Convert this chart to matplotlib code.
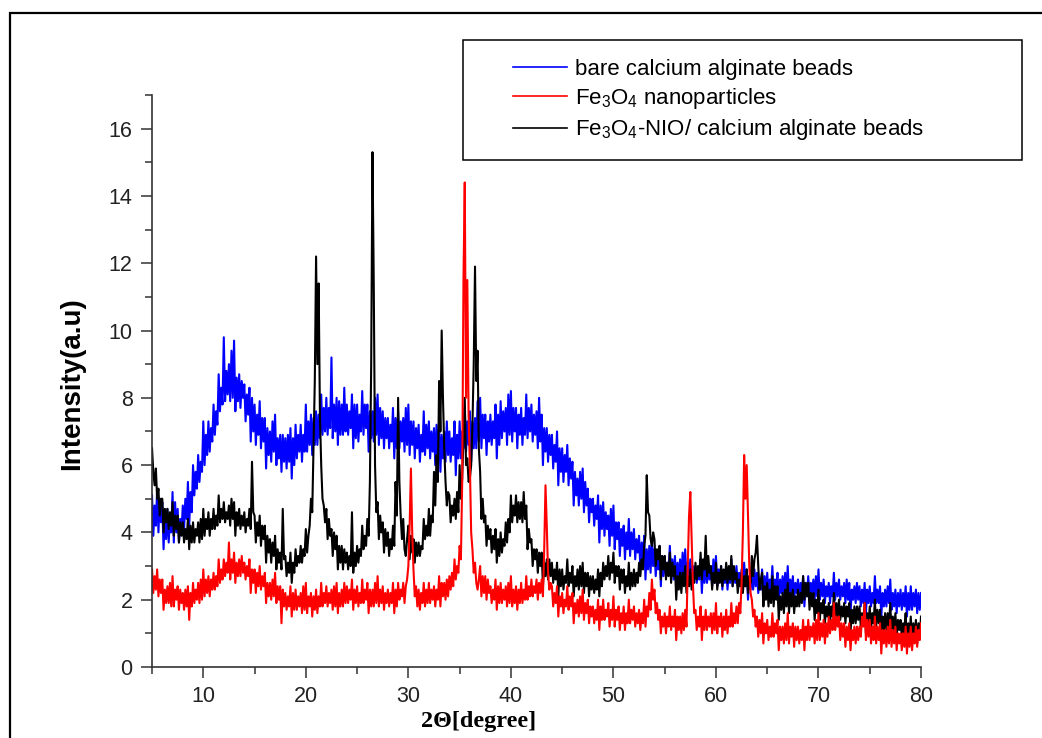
import numpy as np
import matplotlib
matplotlib.use("Agg")
import matplotlib.pyplot as plt
from matplotlib.patches import Rectangle
from matplotlib.ticker import MultipleLocator

# XRD scan 5 - 80 degrees, values read every 0.125 degree off the picture
two_theta = np.arange(601) * 0.125 + 5

bare_beads = [
    5.1, 3.9, 4.8, 4.2, 5.3, 4.0, 5.0, 4.3,  # 5
    4.9, 3.5, 4.6, 3.8, 4.7, 3.7, 4.4, 4.0,  # 6
    5.2, 3.7, 4.9, 4.0, 4.7, 3.7, 4.4, 4.0,  # 7
    4.8, 4.1, 5.0, 4.4, 5.5, 4.2, 5.2, 4.6,  # 8
    6.0, 5.1, 5.8, 5.3, 6.3, 5.5, 6.1, 5.8,  # 9
    7.3, 6.0, 6.9, 6.3, 7.3, 6.4, 7.1, 6.7,  # 10
    7.8, 6.9, 7.6, 7.2, 8.7, 7.6, 8.3, 7.8,  # 11
    9.8, 7.9, 8.8, 8.1, 9.0, 7.9, 9.4, 8.0,  # 12
    9.7, 7.6, 8.6, 7.9, 8.7, 7.7, 8.5, 8.0,  # 13
    8.4, 7.3, 8.1, 7.5, 8.3, 6.7, 8.0, 7.0,  # 14
    7.8, 6.6, 7.5, 6.9, 7.9, 6.5, 7.4, 6.7,  # 15
    7.4, 5.9, 7.1, 6.3, 7.0, 6.1, 7.3, 6.4,  # 16
    7.5, 6.0, 6.8, 6.2, 6.9, 5.8, 6.9, 6.1,  # 17
    6.8, 5.9, 6.9, 6.1, 7.1, 5.6, 6.8, 6.0,  # 18
    7.2, 6.2, 6.9, 6.4, 7.2, 6.1, 6.9, 6.4,  # 19
    7.8, 6.4, 7.3, 6.6, 7.5, 6.3, 7.4, 6.6,  # 20
    7.6, 6.6, 7.5, 6.8, 8.1, 6.9, 7.7, 7.0,  # 21
    8.0, 6.9, 7.7, 7.1, 9.2, 6.8, 7.8, 7.0,  # 22
    8.0, 6.6, 7.9, 6.9, 7.8, 6.9, 8.3, 7.0,  # 23
    7.8, 6.9, 7.6, 7.1, 8.1, 6.5, 7.8, 6.8,  # 24
    7.8, 6.7, 7.5, 7.0, 8.2, 6.9, 7.8, 7.1,  # 25
    7.8, 6.4, 7.6, 6.8, 7.6, 6.7, 8.0, 6.9,  # 26
    8.1, 6.6, 7.7, 6.8, 7.6, 6.5, 7.4, 6.8,  # 27
    7.4, 6.5, 7.2, 6.7, 7.7, 6.2, 7.4, 6.5,  # 28
    7.6, 6.5, 7.3, 6.7, 7.4, 6.4, 7.7, 6.6,  # 29
    7.8, 6.3, 7.3, 6.6, 7.3, 6.2, 7.1, 6.5,  # 30
    7.2, 6.1, 6.9, 6.4, 7.6, 6.3, 7.2, 6.5,  # 31
    7.3, 6.2, 7.0, 6.4, 7.1, 6.0, 7.2, 6.3,  # 32
    7.2, 5.8, 6.9, 6.2, 7.0, 6.1, 7.3, 6.3,  # 33
    7.0, 6.1, 6.8, 6.3, 7.3, 5.7, 6.9, 6.2,  # 34
    7.3, 6.2, 7.0, 6.5, 7.7, 6.4, 7.3, 6.6,  # 35
    7.6, 6.1, 7.3, 6.5, 7.4, 6.5, 7.9, 6.7,  # 36
    8.0, 6.5, 7.5, 6.8, 7.5, 6.3, 7.3, 6.7,  # 37
    7.5, 6.6, 7.3, 6.8, 7.8, 6.2, 7.5, 6.6,  # 38
    7.9, 6.8, 7.6, 7.0, 7.7, 6.6, 8.1, 6.9,  # 39
    8.2, 6.7, 7.7, 7.0, 7.7, 6.5, 7.5, 6.9,  # 40
    7.7, 6.6, 7.4, 6.9, 8.1, 6.8, 7.7, 7.0,  # 41
    7.8, 6.7, 7.5, 6.9, 7.6, 6.5, 8.0, 6.7,  # 42
    7.5, 6.0, 7.1, 6.4, 7.1, 6.1, 6.9, 6.3,  # 43
    6.9, 5.9, 6.6, 6.1, 7.0, 5.4, 6.5, 5.8,  # 44
    6.5, 5.5, 6.3, 5.8, 6.6, 5.4, 6.2, 5.6,  # 45
    6.1, 4.8, 5.8, 5.1, 5.6, 4.8, 5.8, 5.0,  # 46
    5.9, 4.6, 5.5, 4.8, 5.3, 4.3, 5.0, 4.6,  # 47
    5.0, 4.2, 4.8, 4.4, 5.1, 3.7, 4.8, 4.1,  # 48
    4.9, 3.9, 4.6, 4.1, 4.5, 3.6, 4.7, 3.9,  # 49
    4.8, 3.5, 4.3, 3.8, 4.3, 3.3, 4.1, 3.6,  # 50
    4.2, 3.2, 4.0, 3.5, 4.4, 3.3, 4.0, 3.5,  # 51
    4.1, 3.2, 3.8, 3.4, 3.9, 2.9, 3.7, 3.2,  # 52
    3.9, 2.6, 3.5, 2.9, 3.6, 2.8, 3.8, 3.0,  # 53
    3.5, 2.7, 3.3, 2.9, 3.6, 2.4, 3.3, 2.7,  # 54
    3.3, 2.7, 3.1, 2.8, 3.6, 2.8, 3.2, 2.6,  # 55
    3.3, 2.4, 3.1, 2.6, 3.2, 2.6, 3.4, 2.7,  # 56
    3.5, 2.6, 3.1, 2.7, 3.2, 2.5, 3.0, 2.6,  # 57
    3.0, 2.5, 2.9, 2.6, 3.2, 2.2, 3.0, 2.5,  # 58
    3.1, 2.5, 2.9, 2.6, 3.0, 2.4, 3.2, 2.5,  # 59
    3.3, 2.4, 2.9, 2.6, 3.0, 2.3, 2.8, 2.5,  # 60
    2.9, 2.3, 2.8, 2.5, 3.2, 2.4, 2.9, 2.5,  # 61
    3.0, 2.4, 2.8, 2.5, 2.9, 2.3, 3.1, 2.4,  # 62
    2.9, 2.0, 2.7, 2.3, 2.8, 2.3, 2.9, 2.4,  # 63
    2.8, 2.2, 2.6, 2.3, 2.9, 2.0, 2.7, 2.2,  # 64
    2.8, 2.1, 2.6, 2.3, 3.0, 2.2, 2.6, 2.3,  # 65
    2.8, 1.9, 2.6, 2.2, 2.7, 2.1, 2.8, 2.2,  # 66
    3.0, 2.1, 2.6, 2.2, 2.7, 2.0, 2.5, 2.2,  # 67
    2.6, 2.0, 2.5, 2.1, 2.7, 1.8, 2.5, 2.1,  # 68
    2.7, 2.1, 2.5, 2.2, 2.6, 2.0, 2.7, 2.1,  # 69
    2.9, 2.0, 2.5, 2.1, 2.6, 1.9, 2.4, 2.1,  # 70
    2.5, 1.9, 2.4, 2.1, 2.8, 2.0, 2.5, 2.1,  # 71
    2.6, 2.0, 2.4, 2.1, 2.5, 1.9, 2.6, 2.0,  # 72
    2.5, 1.6, 2.3, 2.0, 2.4, 1.9, 2.5, 2.0,  # 73
    2.4, 1.8, 2.3, 1.9, 2.5, 1.6, 2.3, 1.9,  # 74
    2.4, 1.8, 2.2, 1.9, 2.7, 1.9, 2.3, 1.9,  # 75
    2.4, 1.5, 2.2, 1.8, 2.3, 1.8, 2.4, 1.9,  # 76
    2.6, 1.7, 2.2, 1.8, 2.3, 1.6, 2.2, 1.8,  # 77
    2.3, 1.7, 2.2, 1.8, 2.4, 1.5, 2.2, 1.7,  # 78
    2.4, 1.7, 2.2, 1.8, 2.3, 1.6, 2.2, 1.7,  # 79
    2.2,                                      # 80
]

fe3o4 = [
    2.9, 2.2, 2.7, 2.3, 2.9, 2.1, 2.6, 2.2,  # 5
    2.6, 1.7, 2.3, 1.9, 2.4, 1.9, 2.5, 1.8,  # 6
    2.7, 1.8, 2.3, 2.0, 2.4, 1.7, 2.3, 1.9,  # 7
    2.2, 1.7, 2.3, 1.8, 2.4, 1.4, 2.2, 1.8,  # 8
    2.5, 1.9, 2.3, 2.0, 2.5, 1.9, 2.6, 2.0,  # 9
    2.9, 2.1, 2.6, 2.2, 2.7, 2.1, 2.6, 2.3,  # 10
    2.8, 2.3, 2.7, 2.4, 3.2, 2.5, 2.9, 2.6,  # 11
    3.2, 2.7, 3.1, 2.8, 3.7, 2.6, 3.2, 2.8,  # 12
    3.4, 2.5, 3.1, 2.7, 3.2, 2.7, 3.3, 2.8,  # 13
    3.1, 2.6, 3.0, 2.7, 3.2, 2.2, 2.9, 2.5,  # 14
    2.9, 2.2, 2.8, 2.4, 3.0, 2.3, 2.7, 2.4,  # 15
    2.8, 1.9, 2.5, 2.1, 2.5, 2.0, 2.6, 2.1,  # 16
    2.8, 1.9, 2.4, 2.0, 2.4, 1.3, 2.3, 1.8,  # 17
    2.2, 1.7, 2.1, 1.8, 2.4, 1.5, 2.2, 1.7,  # 18
    2.3, 1.7, 2.1, 1.8, 2.2, 1.6, 2.4, 1.7,  # 19
    2.5, 1.6, 2.1, 1.8, 2.2, 1.5, 2.1, 1.7,  # 20
    2.3, 1.6, 2.1, 1.8, 2.5, 1.8, 2.2, 1.9,  # 21
    2.4, 1.8, 2.2, 1.9, 2.3, 1.7, 2.4, 1.8,  # 22
    2.5, 1.6, 2.2, 1.8, 2.3, 1.8, 2.5, 1.9,  # 23
    2.4, 1.9, 2.3, 2.0, 2.6, 1.7, 2.3, 1.9,  # 24
    2.4, 1.8, 2.2, 1.9, 2.6, 1.9, 2.3, 2.0,  # 25
    2.5, 1.6, 2.3, 1.8, 2.3, 1.8, 2.5, 1.9,  # 26
    2.7, 1.8, 2.3, 1.9, 2.4, 1.7, 2.2, 1.9,  # 27
    2.3, 1.8, 2.2, 1.9, 2.5, 1.6, 2.3, 1.8,  # 28
    2.5, 2.0, 2.3, 2.1, 2.5, 1.9, 2.4, 2.6,  # 29
    3.0, 4.2, 5.9, 4.0, 2.9, 2.1, 2.4, 1.8,  # 30
    2.3, 1.7, 2.2, 1.9, 2.5, 1.8, 2.3, 1.9,  # 31
    2.5, 1.9, 2.3, 2.0, 2.4, 1.8, 2.3, 2.0,  # 32
    2.7, 1.8, 2.5, 2.1, 2.5, 2.0, 2.6, 2.1,  # 33
    2.7, 2.3, 2.8, 2.4, 3.2, 2.6, 3.0, 2.8,  # 34
    3.6, 3.2, 5.5, 11.5, 14.4, 8.0, 11.5, 7.5,  # 35
    6.0, 4.0, 3.5, 2.8, 3.1, 2.5, 2.3, 2.6,  # 36
    3.0, 2.1, 2.7, 2.2, 2.7, 2.0, 2.6, 2.2,  # 37
    2.4, 1.9, 2.3, 2.0, 2.6, 1.7, 2.4, 1.9,  # 38
    2.5, 1.9, 2.3, 2.0, 2.4, 1.8, 2.5, 1.9,  # 39
    2.7, 1.8, 2.3, 1.9, 2.4, 1.7, 2.3, 1.9,  # 40
    2.5, 1.9, 2.3, 2.0, 2.7, 2.0, 2.4, 2.1,  # 41
    2.6, 2.1, 2.4, 2.2, 2.6, 2.0, 2.5, 2.2,  # 42
    2.6, 2.1, 3.5, 5.4, 4.2, 2.8, 2.3, 2.5,  # 43
    2.4, 1.8, 2.2, 1.9, 2.4, 1.5, 2.1, 1.8,  # 44
    2.2, 1.6, 2.0, 1.8, 2.4, 1.7, 2.1, 1.8,  # 45
    2.2, 1.3, 1.9, 1.6, 2.0, 1.5, 2.1, 1.6,  # 46
    2.3, 1.4, 1.9, 1.6, 2.0, 1.3, 1.8, 1.5,  # 47
    1.8, 1.3, 1.7, 1.4, 2.0, 1.1, 1.8, 1.4,  # 48
    2.0, 1.4, 1.7, 1.5, 1.9, 1.2, 1.7, 1.4,  # 49
    2.1, 1.2, 1.7, 1.4, 1.8, 1.1, 1.6, 1.3,  # 50
    1.8, 1.1, 1.6, 1.3, 2.0, 1.3, 1.7, 1.4,  # 51
    1.8, 1.2, 1.6, 1.3, 1.7, 1.1, 1.6, 1.3,  # 52
    2.0, 1.2, 1.8, 1.5, 2.2, 1.7, 2.6, 2.0,  # 53
    2.3, 1.6, 1.9, 1.4, 1.7, 1.0, 1.5, 1.2,  # 54
    1.6, 1.0, 1.5, 1.2, 1.8, 1.1, 1.5, 1.2,  # 55
    1.7, 0.8, 1.5, 1.1, 1.5, 1.0, 1.6, 1.1,  # 56
    1.7, 1.2, 3.0, 4.5, 5.2, 3.8, 2.5, 1.6,  # 57
    1.7, 1.1, 1.5, 1.2, 1.8, 0.8, 1.5, 1.1,  # 58
    1.7, 1.1, 1.5, 1.2, 1.6, 1.0, 1.6, 1.1,  # 59
    1.9, 1.0, 1.5, 1.2, 1.6, 0.9, 1.5, 1.1,  # 60
    1.7, 1.0, 1.5, 1.2, 1.9, 1.2, 1.6, 1.3,  # 61
    1.8, 1.3, 1.9, 1.6, 2.5, 4.0, 6.3, 5.0,  # 62
    6.0, 4.5, 3.0, 2.2, 2.0, 1.5, 1.7, 1.2,  # 63
    1.5, 0.9, 1.4, 1.0, 1.6, 0.7, 1.3, 1.0,  # 64
    1.4, 0.8, 1.2, 0.9, 1.6, 0.9, 1.3, 1.0,  # 65
    1.4, 0.5, 1.2, 0.8, 1.2, 0.7, 1.3, 0.8,  # 66
    1.6, 0.7, 1.2, 0.9, 1.3, 0.6, 1.2, 0.8,  # 67
    1.2, 0.7, 1.1, 0.8, 1.4, 0.5, 1.2, 0.8,  # 68
    1.4, 0.8, 1.2, 0.9, 1.3, 0.7, 1.4, 0.8,  # 69
    1.6, 0.8, 1.3, 0.9, 1.4, 0.7, 1.3, 0.9,  # 70
    1.5, 1.0, 1.4, 1.1, 1.9, 1.1, 1.5, 1.2,  # 71
    1.5, 0.8, 1.3, 0.9, 1.3, 0.6, 1.2, 0.8,  # 72
    1.3, 0.5, 1.1, 0.8, 1.2, 0.7, 1.2, 0.8,  # 73
    1.2, 0.9, 1.5, 1.2, 1.9, 0.8, 1.4, 0.9,  # 74
    1.4, 0.7, 1.2, 0.8, 1.5, 0.7, 1.2, 0.8,  # 75
    1.3, 0.4, 1.1, 0.7, 1.1, 0.6, 1.2, 0.7,  # 76
    1.4, 0.6, 1.1, 0.7, 1.2, 0.5, 1.0, 0.7,  # 77
    1.0, 0.5, 1.0, 0.6, 1.2, 0.4, 1.0, 0.6,  # 78
    1.2, 0.5, 1.0, 0.7, 1.2, 0.6, 1.1, 0.8,  # 79
    1.3,                                      # 80
]

fe3o4_nio_beads = [
    6.5, 5.8, 5.4, 5.9, 5.0, 5.3, 4.5, 5.0,  # 5
    5.0, 4.0, 4.7, 4.3, 4.7, 4.1, 4.6, 4.2,  # 6
    4.9, 3.9, 4.5, 4.1, 4.5, 3.7, 4.3, 3.9,  # 7
    4.3, 3.7, 4.1, 3.8, 4.4, 3.5, 4.2, 3.7,  # 8
    4.3, 3.7, 4.1, 3.9, 4.3, 3.7, 4.4, 3.8,  # 9
    4.7, 3.9, 4.4, 4.1, 4.6, 3.9, 4.4, 4.1,  # 10
    4.7, 4.1, 4.5, 4.2, 5.1, 4.3, 4.7, 4.4,  # 11
    4.9, 4.3, 4.6, 4.4, 4.8, 4.2, 5.0, 4.4,  # 12
    4.9, 3.9, 4.6, 4.2, 4.7, 4.1, 4.5, 4.2,  # 13
    4.6, 4.0, 4.4, 4.2, 4.7, 4.1, 6.1, 4.6,  # 14
    4.5, 3.7, 4.3, 3.9, 4.5, 3.6, 4.2, 3.8,  # 15
    4.2, 3.1, 3.9, 3.4, 3.8, 3.1, 3.7, 3.3,  # 16
    3.9, 2.9, 3.5, 3.1, 3.4, 2.9, 4.7, 3.2,  # 17
    3.3, 2.7, 3.1, 2.8, 3.4, 2.5, 3.1, 2.8,  # 18
    3.5, 3.0, 3.3, 3.1, 3.6, 3.1, 3.5, 3.3,  # 19
    4.1, 3.4, 3.9, 4.2, 5.0, 4.6, 6.5, 8.5,  # 20
    12.2, 9.0, 11.4, 7.5, 6.0, 5.0, 4.8, 4.3,  # 21
    4.7, 3.8, 4.4, 3.9, 4.1, 3.3, 4.0, 3.5,  # 22
    3.9, 2.9, 3.6, 3.1, 3.6, 2.9, 3.5, 3.1,  # 23
    3.4, 2.9, 3.3, 3.0, 4.6, 2.8, 3.4, 3.0,  # 24
    3.6, 3.1, 3.5, 3.3, 4.2, 3.5, 3.9, 3.6,  # 25
    4.4, 3.9, 5.5, 9.0, 15.3, 11.4, 6.0, 4.6,  # 26
    4.9, 3.8, 4.5, 4.0, 4.3, 3.4, 4.1, 3.6,  # 27
    4.0, 3.3, 3.8, 3.5, 4.2, 3.6, 5.5, 4.5,  # 28
    8.0, 5.5, 4.5, 3.8, 4.4, 3.5, 3.3, 3.8,  # 29
    4.2, 3.2, 3.9, 3.4, 3.8, 3.1, 3.7, 3.3,  # 30
    3.7, 3.3, 3.6, 3.5, 4.4, 3.8, 4.2, 3.9,  # 31
    4.7, 3.9, 4.5, 4.3, 5.8, 4.8, 6.3, 5.5,  # 32
    8.5, 7.0, 10.0, 8.0, 6.5, 5.5, 4.8, 5.2,  # 33
    5.1, 4.3, 4.8, 4.5, 5.0, 4.4, 5.2, 4.6,  # 34
    6.0, 5.0, 5.6, 6.8, 8.0, 6.0, 6.2, 5.5,  # 35
    5.6, 6.0, 7.2, 9.0, 11.9, 8.5, 9.4, 6.5,  # 36
    5.8, 4.4, 5.0, 4.3, 4.5, 3.6, 4.2, 3.8,  # 37
    4.1, 3.4, 3.9, 3.5, 4.1, 3.1, 3.8, 3.3,  # 38
    4.0, 3.4, 3.8, 3.6, 4.3, 3.7, 4.4, 4.0,  # 39
    5.1, 4.3, 4.8, 4.5, 5.1, 4.3, 4.9, 4.4,  # 40
    4.9, 4.3, 5.2, 4.4, 4.8, 3.5, 4.1, 3.7,  # 41
    3.8, 3.0, 3.5, 3.2, 3.5, 2.8, 3.4, 3.0,  # 42
    3.4, 2.4, 3.1, 2.7, 3.2, 2.6, 3.2, 2.7,  # 43
    3.1, 2.5, 2.9, 2.6, 3.1, 2.1, 2.9, 2.4,  # 44
    2.9, 2.3, 2.7, 2.5, 3.2, 2.4, 2.8, 2.5,  # 45
    3.0, 2.1, 2.7, 2.4, 2.9, 2.3, 3.0, 2.4,  # 46
    3.1, 2.2, 2.8, 2.4, 2.8, 2.1, 2.7, 2.3,  # 47
    2.7, 2.2, 2.6, 2.3, 2.9, 2.1, 2.8, 2.4,  # 48
    3.1, 2.6, 3.0, 2.7, 3.3, 2.6, 3.1, 2.8,  # 49
    3.4, 2.5, 3.0, 2.7, 3.0, 2.3, 2.9, 2.5,  # 50
    2.9, 2.2, 2.7, 2.4, 3.1, 2.3, 2.8, 2.4,  # 51
    2.9, 2.4, 2.8, 2.5, 3.1, 2.7, 3.2, 2.9,  # 52
    3.6, 3.9, 5.7, 4.6, 4.5, 3.8, 3.6, 4.0,  # 53
    3.8, 3.0, 3.5, 3.2, 3.6, 2.6, 3.3, 2.9,  # 54
    3.3, 2.6, 3.1, 2.7, 3.4, 2.5, 3.1, 2.7,  # 55
    3.0, 2.0, 2.7, 2.3, 2.8, 2.2, 2.8, 2.4,  # 56
    3.0, 2.2, 2.7, 2.4, 2.9, 2.3, 2.8, 2.5,  # 57
    3.1, 2.6, 3.0, 2.7, 3.4, 2.6, 3.2, 2.9,  # 58
    3.9, 2.7, 3.3, 2.8, 3.0, 2.3, 2.8, 2.5,  # 59
    3.1, 2.3, 2.8, 2.5, 3.0, 2.4, 2.9, 2.6,  # 60
    3.1, 2.5, 3.0, 2.6, 3.3, 2.4, 3.0, 2.6,  # 61
    2.8, 2.2, 2.6, 2.4, 2.8, 2.2, 2.7, 2.4,  # 62
    2.9, 2.2, 2.7, 2.5, 3.3, 2.7, 3.2, 3.4,  # 63
    3.9, 3.0, 2.3, 2.6, 2.8, 1.8, 2.4, 2.0,  # 64
    2.5, 1.8, 2.3, 1.9, 2.7, 1.8, 2.4, 2.0,  # 65
    2.4, 1.4, 2.1, 1.7, 2.2, 1.6, 2.3, 1.8,  # 66
    2.5, 1.6, 2.2, 1.8, 2.3, 1.6, 2.1, 1.8,  # 67
    2.3, 1.8, 2.2, 1.9, 2.7, 2.0, 2.5, 2.1,  # 68
    2.5, 1.7, 2.2, 1.8, 2.2, 1.4, 2.0, 1.6,  # 69
    2.3, 1.4, 1.9, 1.6, 2.0, 1.3, 1.8, 1.5,  # 70
    1.9, 1.3, 1.8, 1.5, 2.2, 1.4, 1.9, 1.5,  # 71
    2.0, 1.4, 1.8, 1.5, 1.9, 1.3, 1.8, 1.5,  # 72
    1.9, 1.0, 1.7, 1.3, 1.8, 1.3, 1.8, 1.4,  # 73
    1.8, 1.2, 1.6, 1.3, 1.9, 1.0, 1.6, 1.3,  # 74
    1.8, 1.1, 1.6, 1.3, 2.0, 1.2, 1.7, 1.3,  # 75
    1.7, 0.8, 1.5, 1.1, 1.6, 1.1, 1.6, 1.2,  # 76
    1.9, 1.0, 1.5, 1.1, 1.6, 0.9, 1.4, 1.1,  # 77
    1.4, 0.9, 1.3, 1.0, 1.6, 0.6, 1.3, 0.9,  # 78
    1.5, 0.8, 1.3, 0.9, 1.4, 0.7, 1.3, 0.9,  # 79
    1.5,                                      # 80
]

labels = ["bare calcium alginate beads",
          r"Fe$_{\mathregular{3}}$O$_{\mathregular{4}}$ nanoparticles",
          r"Fe$_{\mathregular{3}}$O$_{\mathregular{4}}$-NIO/ calcium alginate beads"]

plt.rcParams["font.family"] = ["Liberation Sans", "DejaVu Sans"]

fig = plt.figure(figsize=(10.42, 7.38), dpi=100)
ax = fig.add_axes([0.1459, 0.0962, 0.738, 0.7751])

# blue first, then black, red on top
lw = 1.5
l_blue, = ax.plot(two_theta, bare_beads, color="#0000ff", lw=lw)
l_black, = ax.plot(two_theta, fe3o4_nio_beads, color="black", lw=lw)
l_red, = ax.plot(two_theta, fe3o4, color="#ff0000", lw=lw)

ax.set_xlim(5, 80)
ax.set_ylim(0, 17)
ax.xaxis.set_major_locator(MultipleLocator(10))
ax.xaxis.set_minor_locator(MultipleLocator(5))
ax.yaxis.set_major_locator(MultipleLocator(2))
ax.yaxis.set_minor_locator(MultipleLocator(1))
ax.set_xticks([10, 20, 30, 40, 50, 60, 70, 80])
ax.tick_params(which="major", direction="out", length=8, width=1.1, labelsize=15.5,
               pad=6, colors="#333333", labelcolor="#222222")
ax.tick_params(which="minor", direction="out", length=5, width=1.1, colors="#333333")
for s in ["top", "right"]:
    ax.spines[s].set_visible(False)
for s in ["left", "bottom"]:
    ax.spines[s].set_linewidth(1.2)
    ax.spines[s].set_color("#333333")

fig.text(72 / 1042, 1 - 384 / 738, "Intensity(a.u)", rotation=90, fontsize=20,
         fontweight="bold", ha="center", va="center")
fig.text(479 / 1042, 1 - 721 / 738, "2\u0398[degree]", fontsize=17.5, fontweight="bold",
         family="Liberation Serif", ha="center", va="center")

# legend box and entries
fig.patches.append(Rectangle((463 / 1042, 1 - 160 / 738), 559 / 1042, 120 / 738,
                             transform=fig.transFigure, fill=False, ec="black", lw=1.1))
leg = fig.legend([l_blue, l_red, l_black], labels, loc="upper left",
                 bbox_to_anchor=(513 / 1042, 1 - 59 / 738), frameon=False, fontsize=16,
                 borderpad=0, borderaxespad=0, handlelength=2.45, handletextpad=0.35,
                 labelspacing=0.28)
for h in leg.legend_handles:
    h.set_linewidth(1.2)

# outer frame of the picture
fig.patches.append(Rectangle((10 / 1042, -0.1), 1.2, 1.1 - 13 / 738,
                             transform=fig.transFigure, fill=False, ec="black", lw=1.6))

fig.savefig("out.png", dpi=100)
